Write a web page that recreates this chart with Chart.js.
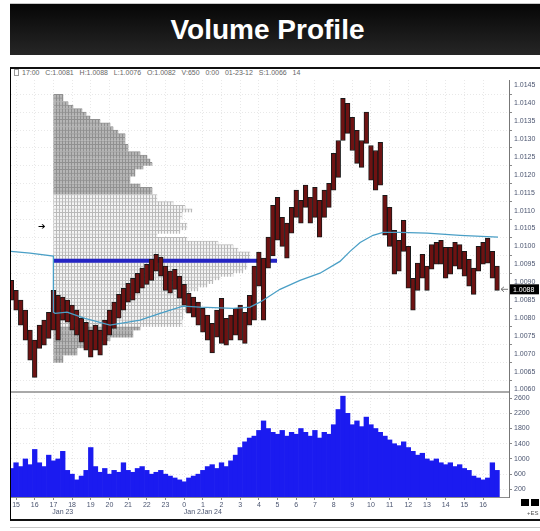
<!DOCTYPE html>
<html><head><meta charset="utf-8">
<script src="https://cdn.jsdelivr.net/npm/chart.js@4/dist/chart.umd.min.js"></script>
<style>
html,body{margin:0;padding:0;background:#fff;width:540px;height:531px;overflow:hidden;font-family:"Liberation Sans",Arial,sans-serif}
#titlebar{position:absolute;left:10px;top:3px;width:530px;height:52px;background:linear-gradient(#060606,#262626);border-top:1px solid #c8c8c8;box-sizing:border-box}
#titlebar span{position:absolute;left:0;width:515px;text-align:center;top:12px;line-height:28px;color:#fff;font-weight:bold;font-size:28px}
#frame{position:absolute;left:10px;top:67px;width:530px;height:454px;border-left:1.5px solid #000;border-top:2px solid #111;border-bottom:2px solid #111;box-sizing:border-box}
#hdr{position:absolute;left:22px;top:69px;font-size:7px;line-height:8px;color:#666;white-space:pre}
#pin{position:absolute;left:14px;top:69px;width:3px;height:5px;border:1px solid #999}
#wrap{position:absolute;left:11px;top:69px;width:529px;height:450px}
#arrow{position:absolute;left:38px;top:221px;font-family:"DejaVu Sans";font-size:9px;line-height:10px;color:#000}
#sq1,#sq2{position:absolute;top:499px;width:8px;height:7px;background:#000}
#sq1{left:521px}#sq2{left:531px}
#es{position:absolute;left:527px;top:510px;font-size:6px;color:#555}
#bline{position:absolute;left:10px;top:527px;width:530px;height:1px;background:#c8c8c8}
</style></head>
<body>
<div id="titlebar"><span>Volume Profile</span></div>
<div id="frame"></div>
<div id="pin"></div>
<div id="hdr">17:00   C:1.0081   H:1.0088   L:1.0076   O:1.0082   V:650   0:00   01-23-12   S:1.0066   14</div>
<div id="wrap"><canvas id="c" width="529" height="450"></canvas></div>
<div id="arrow">➔</div>
<div id="sq1"></div><div id="sq2"></div>
<div id="es">+ES</div>
<div id="bline"></div>
<script>
// ---- data ----
const hourLabels = ['15','16','17','18','19','20','21','22','23','0','1','2','3','4','5','6','7','8','9','10','11','12','13','14','15','16'];
const dateLabelPos = [2.5, 10];
const dateLabelText = ['Jan 23', 'Jan 2Jan 24'];
const startTime = -0.25;   // hours after 15:00
const barStep = 0.25;      // 15-minute samples

const priceHigh = [1.00905,1.00877,1.00850,1.00822,1.00766,1.00738,1.00780,1.00794,1.00816,1.00877,
 1.00863,1.00858,1.00850,1.00836,1.00822,1.00799,1.00788,1.00766,1.00780,1.00766,
 1.00794,1.00822,1.00844,1.00866,1.00883,1.00897,1.00911,1.00925,1.00939,1.00950,
 1.00964,1.00978,1.00970,1.00945,1.00931,1.00936,1.00917,1.00894,1.00869,1.00858,
 1.00844,1.00827,1.00808,1.00785,1.00822,1.00855,1.00799,1.00808,1.00827,1.00836,
 1.00816,1.00863,1.00945,1.00984,1.00967,1.01026,1.01115,1.01137,1.01081,1.01065,
 1.01109,1.01157,1.01129,1.01171,1.01137,1.01165,1.01129,1.01157,1.01176,1.01260,
 1.01296,1.01414,1.01400,1.01361,1.01324,1.01296,1.01375,1.01282,1.01268,1.01291,
 1.01143,1.01109,1.01045,1.01017,1.01073,1.01000,1.00911,1.00953,1.00978,1.00945,
 1.01005,1.01011,1.01017,1.00997,1.00997,1.01011,1.01005,1.00986,1.00964,1.00939,
 1.01000,1.01011,1.01023,1.00986,1.00945];
const priceLow = [1.00850,1.00822,1.00780,1.00738,1.00682,1.00634,1.00715,1.00724,1.00743,1.00766,
 1.00738,1.00794,1.00788,1.00766,1.00752,1.00732,1.00710,1.00690,1.00710,1.00696,
 1.00724,1.00752,1.00771,1.00799,1.00822,1.00844,1.00850,1.00869,1.00883,1.00894,
 1.00905,1.00931,1.00917,1.00877,1.00869,1.00880,1.00855,1.00836,1.00813,1.00802,
 1.00780,1.00760,1.00738,1.00702,1.00746,1.00729,1.00724,1.00738,1.00752,1.00738,
 1.00729,1.00780,1.00794,1.00889,1.00794,1.00939,1.00973,1.01017,1.01000,1.00967,
 1.01037,1.01081,1.01065,1.01109,1.01065,1.01081,1.01026,1.01081,1.01109,1.01157,
 1.01193,1.01296,1.01316,1.01268,1.01232,1.01221,1.01288,1.01185,1.01157,1.01171,
 1.01031,1.01000,1.00922,1.00931,1.00986,1.00883,1.00822,1.00877,1.00911,1.00877,
 1.00936,1.00950,1.00950,1.00911,1.00922,1.00945,1.00936,1.00917,1.00889,1.00866,
 1.00931,1.00950,1.00953,1.00911,1.00877];
const volume = [750,900,800,1000,850,1250,900,800,1100,950,
 1000,1200,700,600,450,550,700,1300,800,650,
 750,600,700,650,900,700,650,750,800,700,
 600,650,700,600,550,500,450,400,500,550,
 600,700,800,850,750,900,800,950,1100,1300,
 1450,1550,1600,1750,2000,1800,1700,1650,1750,1600,
 1700,1650,1800,1700,1600,1750,1550,1700,1650,1900,
 2300,2650,2200,1900,2000,1850,2100,1900,1800,1700,
 1600,1500,1400,1350,1450,1300,1200,1100,1150,1000,
 950,1000,900,850,900,800,850,750,700,550,
 500,450,500,900,700];

const vwapTime = [-0.32,0.75,2.0,2.0,2.09,2.73,3.69,5.03,6.64,7.71,8.94,9.85,11.62,12.53,13.06,14.13,15.20,16.27,17.34,17.88,18.42,19.11,19.65,20.56,22.00,23.77,25.80];
const vwapPrice = [1.00986,1.00981,1.00973,1.00816,1.00813,1.00816,1.00799,1.00780,1.00794,1.00813,1.00833,1.00830,1.00827,1.00830,1.00844,1.00880,1.00905,1.00925,1.00958,1.00986,1.01011,1.01031,1.01039,1.01039,1.01037,1.01031,1.01026];

const profileLevels = [1.0142,1.0141,1.0140,1.0139,1.0138,1.0137,1.0136,1.0135,1.0134,1.0133,
 1.0132,1.0131,1.0130,1.0129,1.0128,1.0127,1.0126,1.0125,1.0124,1.0123,
 1.0122,1.0121,1.0120,1.0119,1.0118,1.0117,1.0116,1.0115,1.0114,1.0113,
 1.0112,1.0111,1.0110,1.0109,1.0108,1.0107,1.0106,1.0105,1.0104,1.0103,
 1.0102,1.0101,1.0100,1.0099,1.0098,1.0097,1.0096,1.0095,1.0094,1.0093,
 1.0092,1.0091,1.0090,1.0089,1.0088,1.0087,1.0086,1.0085,1.0084,1.0083,
 1.0082,1.0081,1.0080,1.0079,1.0078,1.0077,1.0076,1.0075,1.0074,1.0073,
 1.0072,1.0071,1.0070,1.0069,1.0068];
const profileVolume = [500,500,750,1000,1450,1650,1850,2350,2850,3000,
 3250,3600,3600,3600,3750,3750,4350,4700,4850,4950,
 4500,4100,4100,3850,3850,4350,4950,4950,5200,5200,
 6000,6600,6950,6450,6450,6350,6700,6700,6350,5200,
 6700,8250,9000,9250,9850,9850,9850,9700,9700,9500,
 9000,8350,8000,7700,7250,6850,6650,6500,6500,6700,
 6700,6500,6500,6450,6450,4350,4000,4000,2850,2000,
 2000,1200,1200,500,500];
const profileStart = 2.0;     // 17:00 session open
const valueAreaHigh = 1.0114;
const valueAreaLow = 1.0078;
const pocPrice = 1.0096;
const pocEnd = 13.97;
const lastPrice = 1.0088;

const priceTicks = [1.0060,1.0065,1.0070,1.0075,1.0080,1.0085,1.0090,1.0095,1.0100,1.0105,1.0110,1.0115,1.0120,1.0125,1.0130,1.0135,1.0140,1.0145];
const volumeTicks = [200,600,1000,1400,1800,2200,2600];

// ---- chart ----
const xMin = -0.27, xMax = 26.39;
const volPerHour = 934;
const canvas = document.getElementById('c');
const cx = canvas.getContext('2d');
function makePattern(fill, line){
  const c = document.createElement('canvas'); c.width = 3; c.height = 1;
  const g = c.getContext('2d');
  g.fillStyle = fill; g.fillRect(0,0,3,1);
  g.fillStyle = line; g.fillRect(0,0,1,1);
  return cx.createPattern(c, 'repeat');
}
const lightPat = makePattern('#f4f4f4', '#b9b9b9');
const darkPat = makePattern('#b6b6b6', '#909090');
const inVA = (i) => i !== undefined && profileLevels[i] <= valueAreaHigh + 1e-9 && profileLevels[i] >= valueAreaLow - 1e-9;

const times = priceHigh.map((_, i) => startTime + i * barStep);
const tickCol = '#4b5570';
const gridCol = 'rgba(0,0,0,0.09)';

Chart.defaults.font.family = '"Liberation Sans", Arial, sans-serif';

const overlay = {
  id: 'overlay',
  afterDraw(chart) {
    const {ctx, chartArea, scales} = chart;
    ctx.save();
    ctx.strokeStyle = '#8c8c8c'; ctx.lineWidth = 1.5;
    ctx.beginPath();
    ctx.moveTo(chartArea.left, scales.y.bottom); ctx.lineTo(chartArea.right, scales.y.bottom);
    ctx.stroke();
    const py = scales.y.getPixelForValue(lastPrice);
    ctx.fillStyle = '#000';
    ctx.fillRect(chartArea.right + 1, py - 5, 29, 10);
    ctx.fillStyle = '#fff'; ctx.font = '7px "Liberation Sans"';
    ctx.textBaseline = 'middle'; ctx.textAlign = 'left';
    ctx.fillText(lastPrice.toFixed(4), chartArea.right + 4, py + 0.5);
    ctx.strokeStyle = '#777'; ctx.lineWidth = 1;
    ctx.beginPath();
    ctx.moveTo(chartArea.right - 8, py); ctx.lineTo(chartArea.right - 1, py);
    ctx.moveTo(chartArea.right - 5, py - 2.5); ctx.lineTo(chartArea.right - 8, py); ctx.lineTo(chartArea.right - 5, py + 2.5);
    ctx.stroke();
    ctx.restore();
  }
};

new Chart(canvas, {
  type: 'bar',
  data: {
    datasets: [
      {
        type: 'line', label: 'VWAP', xAxisID: 'x', yAxisID: 'y', order: 0,
        data: vwapTime.map((t, i) => ({x: t, y: vwapPrice[i]})),
        borderColor: '#4a9fc6', borderWidth: 1.3, pointRadius: 0, tension: 0
      },
      {
        type: 'bar', label: 'Price', xAxisID: 'x', yAxisID: 'y', order: 2, grouped: false,
        data: times.map((t, i) => ({x: t, y: [priceLow[i], priceHigh[i]]})),
        backgroundColor: '#6e1212', borderColor: '#181818', borderWidth: 1, borderSkipped: false,
        barPercentage: 1, categoryPercentage: 1
      },
      {
        type: 'line', label: 'POC', xAxisID: 'x', yAxisID: 'y', order: 4,
        data: [{x: profileStart, y: pocPrice}, {x: pocEnd, y: pocPrice}],
        borderColor: '#2424c4', borderWidth: 4, pointRadius: 0
      },
      {
        type: 'bar', label: 'Profile', indexAxis: 'y', xAxisID: 'xp', yAxisID: 'y', order: 10, grouped: false,
        data: profileLevels.map((p, k) => ({x: profileVolume[k], y: p})),
        backgroundColor: (c) => inVA(c.dataIndex) ? lightPat : darkPat,
        borderColor: (c) => inVA(c.dataIndex) ? '#b9b9b9' : '#909090',
        borderWidth: {top: 1, right: 0, bottom: 0, left: 0}, borderSkipped: false,
        barThickness: 3.58
      },
      {
        type: 'bar', label: 'Volume', xAxisID: 'x', yAxisID: 'yv', order: 3, grouped: false,
        data: times.map((t, i) => ({x: t, y: volume[i]})),
        backgroundColor: '#1b1bf0', borderWidth: 0,
        barPercentage: 1, categoryPercentage: 1
      }
    ]
  },
  options: {
    responsive: false, animation: false, events: [],
    layout: {padding: {top: 11, left: 0, right: 0, bottom: 0}},
    plugins: {legend: {display: false}, tooltip: {enabled: false}, title: {display: false}},
    scales: {
      x: {
        type: 'linear', position: 'bottom', min: xMin, max: xMax, offset: false,
        afterBuildTicks: (s) => {
          const vals = hourLabels.map((_, i) => i).concat(dateLabelPos.filter(p => !Number.isInteger(p)));
          vals.sort((a, b) => a - b);
          s.ticks = vals.map(v => ({value: v}));
        },
        afterFit: (s) => { s.height = 22; },
        ticks: {
          autoSkip: false, maxRotation: 0, minRotation: 0, padding: 1,
          color: tickCol, font: {size: 7, lineHeight: 1.05},
          callback: (v) => {
            const h = Number.isInteger(v) ? hourLabels[v] : '';
            const di = dateLabelPos.indexOf(v);
            return di >= 0 ? [h, dateLabelText[di]] : h;
          }
        },
        grid: {
          offset: false,
          color: (c) => (c.tick && Number.isInteger(c.tick.value)) ? gridCol : 'rgba(0,0,0,0)',
          tickColor: (c) => (c.tick && Number.isInteger(c.tick.value)) ? '#888' : 'rgba(0,0,0,0)',
          tickLength: 3
        },
        border: {display: true, color: '#8c8c8c', width: 1, dash: [1, 2]}
      },
      xp: {
        type: 'linear', display: false, offset: false,
        min: (xMin - profileStart) * volPerHour, max: (xMax - profileStart) * volPerHour
      },
      y: {
        type: 'linear', position: 'right', stack: 'panes', stackWeight: 312, offset: false,
        min: 1.00593, max: 1.01465, beginAtZero: false,
        afterBuildTicks: (s) => { s.ticks = priceTicks.map(v => ({value: v})); },
        afterFit: (s) => { s.width = 31; },
        ticks: {autoSkip: false, color: tickCol, font: {size: 7}, padding: 2, callback: (v) => v.toFixed(4)},
        grid: {color: gridCol, tickColor: '#888', tickLength: 3},
        border: {display: true, color: '#777', width: 1, dash: [1, 2]}
      },
      yv: {
        type: 'linear', position: 'right', stack: 'panes', stackWeight: 105, offset: false,
        min: 0, max: 2760,
        afterBuildTicks: (s) => { s.ticks = volumeTicks.map(v => ({value: v})); },
        afterFit: (s) => { s.width = 31; },
        ticks: {autoSkip: false, color: tickCol, font: {size: 7}, padding: 2, callback: (v) => String(v)},
        grid: {color: gridCol, tickColor: '#888', tickLength: 3},
        border: {display: true, color: '#777', width: 1, dash: [1, 2]}
      }
    }
  },
  plugins: [overlay]
});
</script>
</body></html>
